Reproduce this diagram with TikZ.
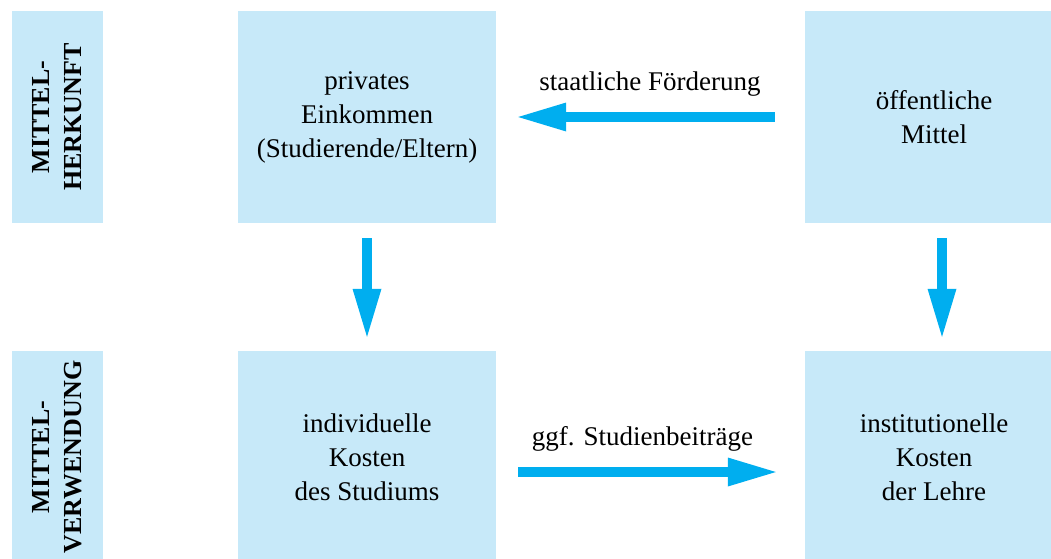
\documentclass[tikz,border=0pt]{standalone}
\usepackage{fontspec}
\setmainfont{Liberation Serif}
\usetikzlibrary{arrows.meta}
\definecolor{boxfill}{RGB}{199,233,249}
\definecolor{arrowcyan}{RGB}{0,174,239}
\tikzset{
  mainbox/.style={fill=boxfill, draw=none, minimum width=258pt, minimum height=212pt,
    inner sep=0pt, align=center, font=\fontsize{27pt}{34pt}\selectfont},
  sidebox/.style={fill=boxfill, draw=none, rotate=90, minimum width=212pt, minimum height=91pt,
    inner sep=0pt, align=center, font=\fontsize{26pt}{32pt}\selectfont\bfseries},
  bigarrow/.style={draw=arrowcyan, line width=10pt,
    -{Triangle[length=48pt, width=29pt, line width=0pt, fill=arrowcyan]}},
  flowlabel/.style={anchor=base, inner sep=0pt, font=\fontsize{27pt}{34pt}\selectfont}
}
\begin{document}
\begin{tikzpicture}[x=1pt, y=-1pt]
\useasboundingbox (0,0) rectangle (1051,558);
\node[sidebox] (herk) at (57.5,117) {MITTEL-\\HERKUNFT};
\node[sidebox] (verw) at (57.5,457) {MITTEL-\\VERWENDUNG};
\node[mainbox] (priv) at (367,117) {privates\\Einkommen\\(Studierende/Eltern)};
\node[mainbox] (oeff) at (934,117) {öffentliche\\Mittel};
\node[mainbox] (indiv) at (367,457) {individuelle\\Kosten\\des Studiums};
\node[mainbox] (inst) at (934,457) {institutionelle\\Kosten\\der Lehre};
\node[flowlabel] (lstaat) at (650,90) {staatliche Förderung};
\node[flowlabel] (lggf) at (642.5,445) {ggf. Studienbeiträge};
\draw[bigarrow, shorten <=30pt, shorten >=22pt] (oeff.west) -- (priv.east);
\draw[bigarrow, shorten <=22pt, shorten >=29pt] ([yshift=-15pt]indiv.east) -- ([yshift=-15pt]inst.west);
\draw[bigarrow, shorten <=15pt, shorten >=14pt] (priv.south) -- (indiv.north);
\draw[bigarrow, shorten <=15pt, shorten >=14pt] ([xshift=8pt]oeff.south) -- ([xshift=8pt]inst.north);
\end{tikzpicture}
\end{document}
